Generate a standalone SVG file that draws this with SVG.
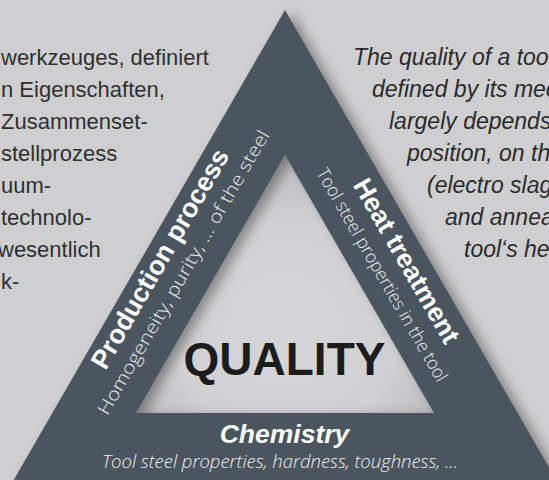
<svg xmlns="http://www.w3.org/2000/svg" width="549" height="480" viewBox="0 0 549 480">
<defs>
<style>
.para{font-family:"Liberation Sans",Arial,sans-serif;font-size:22px;fill:#2f2f2f}
.it{font-style:italic;font-size:23px;fill:#2a2a2a}
.title{font-family:"Liberation Sans",Arial,sans-serif;font-weight:bold;font-size:26.5px;fill:#ffffff;text-anchor:middle}
.bi{font-style:italic}
.sub{font-family:"Open Sans",Lato,"Liberation Sans",sans-serif;font-weight:300;font-size:18px;fill:#f0f0f0;text-anchor:middle}
.q{font-family:"Liberation Sans",Arial,sans-serif;font-weight:bold;font-size:46px;fill:#1c1c1c;text-anchor:middle}
</style>
<radialGradient id="inner" cx="285" cy="330" r="180" gradientUnits="userSpaceOnUse">
<stop offset="0" stop-color="#d6d6d8"/>
<stop offset="0.6" stop-color="#d1d1d3"/>
<stop offset="1" stop-color="#b9b9bb"/>
</radialGradient>
<filter id="sh" x="-20%" y="-20%" width="140%" height="140%">
<feDropShadow dx="7" dy="3" stdDeviation="6" flood-color="#000" flood-opacity="0.35"/>
</filter>
</defs>
<rect width="549" height="480" fill="#cfcfd1"/>
<g id="text-left" class="para">
<text x="1" y="64.5">werkzeuges, definiert</text>
<text x="1" y="96.5">n Eigenschaften,</text>
<text x="1" y="128.5">Zusammenset-</text>
<text x="1" y="160.5">stellprozess</text>
<text x="1" y="192.5">uum-</text>
<text x="1" y="224.5">technolo-</text>
<text x="-2" y="256.5">wesentlich</text>
<text x="1" y="288.5">k-</text>
</g>
<g id="text-right" class="para it">
<text x="353" y="64.5">The quality of a too</text>
<text x="372" y="96.5">defined by its mec</text>
<text x="389" y="128.5">largely depends</text>
<text x="407" y="160.5">position, on th</text>
<text x="427" y="192.5">(electro slag</text>
<text x="445" y="224.5">and annea</text>
<text x="464" y="256.5">tool‘s he</text>
</g>
<g id="triangle">
<polygon points="285,155 433.96,413 136.04,413" fill="url(#inner)"/>
<path filter="url(#sh)" fill="#4b555f" fill-rule="evenodd" d="M285,10 L559.5,485.5 L10.5,485.5 Z M285,155 L136.04,413 L433.96,413 Z"/>
</g>
<g id="production">
<text class="title" transform="translate(167.65,263.25) rotate(-60)">Production process</text>
<text class="sub" transform="translate(188.87,275.5) rotate(-60)" textLength="325" lengthAdjust="spacingAndGlyphs">Homogeneity, purity, … of the steel</text>
</g>
<g id="heat">
<text class="title" transform="translate(398.89,265.25) rotate(60)">Heat treatment</text>
<text class="sub" transform="translate(376.8,278) rotate(60)" textLength="243" lengthAdjust="spacingAndGlyphs">Tool steel properties in the tool</text>
</g>
<g id="chemistry">
<text class="title bi" x="284.5" y="443">Chemistry</text>
<text class="sub bi" x="280" y="468" style="font-size:17.5px" textLength="356" lengthAdjust="spacingAndGlyphs">Tool steel properties, hardness, toughness, …</text>
</g>
<g id="quality">
<text class="q" x="284.5" y="375">QUALITY</text>
</g>
</svg>
